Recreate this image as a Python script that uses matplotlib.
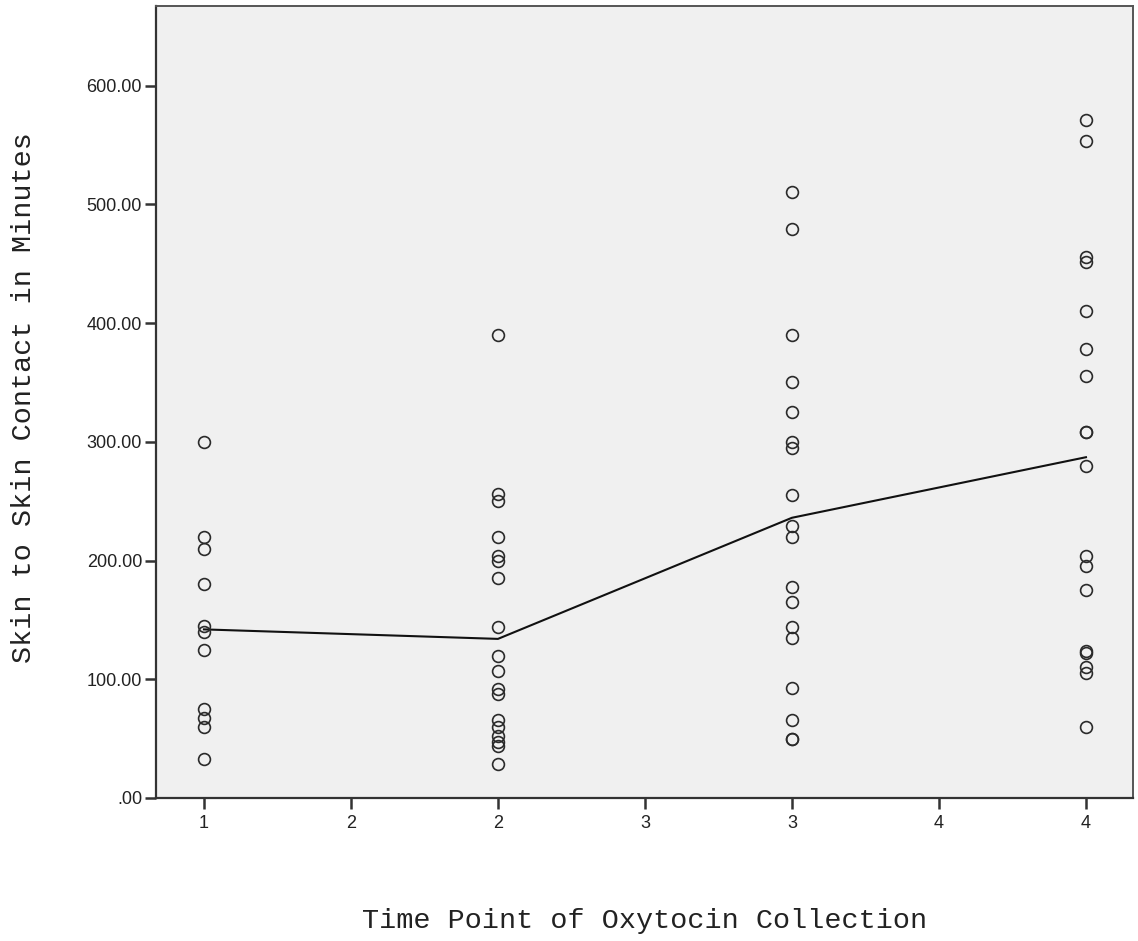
from __future__ import annotations

import matplotlib

matplotlib.use("Agg")
import matplotlib.pyplot as plt


# x positions of the four collection time points
TIME_POINTS = [1, 2, 3, 4]

# skin-to-skin minutes, one list per time point
MINUTES_T1 = [300, 220, 210, 180, 145, 140, 125, 75, 67, 60, 33]
MINUTES_T2 = [390, 256, 250, 220, 204, 200, 185, 144, 120, 107, 92, 88,
              66, 60, 52, 47, 44, 29]
MINUTES_T3 = [510, 479, 390, 350, 325, 300, 295, 255, 229, 220, 178, 165,
              144, 135, 93, 66, 50, 50]
MINUTES_T4 = [571, 553, 456, 451, 410, 378, 355, 308, 308, 280, 204, 195,
              175, 124, 122, 110, 105, 60]

# mean line drawn through the groups
MEAN_LINE = [142, 134, 236, 287]

# SPSS style axis ticks
X_TICKS = [1, 1.5, 2, 2.5, 3, 3.5, 4]
X_TICK_LABELS = ["1", "2", "2", "3", "3", "4", "4"]
Y_TICKS = [0, 100, 200, 300, 400, 500, 600]
Y_TICK_LABELS = [".00", "100.00", "200.00", "300.00", "400.00", "500.00", "600.00"]

X_LABEL = "Time Point of Oxytocin Collection"
Y_LABEL = "Skin to Skin Contact in Minutes"

W, H = 1138, 941


def set_plot_style() -> None:
    plt.rcParams.update(
        {
            "font.family": ["Liberation Sans", "DejaVu Sans"],
            "figure.facecolor": "#FFFFFF",
            "axes.facecolor": "#F0F0F0",
            "xtick.labelsize": 13,
            "ytick.labelsize": 13,
            "xtick.color": "#333333",
            "ytick.color": "#333333",
            "xtick.labelcolor": "#222222",
            "ytick.labelcolor": "#222222",
        }
    )


def main() -> None:
    set_plot_style()
    fig = plt.figure(figsize=(W / 100, H / 100), dpi=100)
    ax = fig.add_axes([156 / W, 1 - 798 / H, (1133 - 156) / W, (798 - 6) / H])

    groups = [MINUTES_T1, MINUTES_T2, MINUTES_T3, MINUTES_T4]
    ax.plot(TIME_POINTS, MEAN_LINE, color="#111111", linewidth=1.5, zorder=2)
    for x, values in zip(TIME_POINTS, groups):
        ax.plot(
            [x] * len(values),
            values,
            linestyle="none",
            marker="o",
            markersize=8.5,
            markerfacecolor="none",
            markeredgecolor="#2a2a2a",
            markeredgewidth=1.2,
            zorder=3,
        )

    ax.set_xlim(0.837, 4.16)
    ax.set_ylim(0, 667)
    ax.set_xticks(X_TICKS)
    ax.set_xticklabels(X_TICK_LABELS)
    ax.set_yticks(Y_TICKS)
    ax.set_yticklabels(Y_TICK_LABELS)
    ax.tick_params(axis="both", length=8, width=1.8, direction="out")
    ax.tick_params(axis="x", pad=4)
    ax.tick_params(axis="y", pad=2)

    for side in ("left", "bottom"):
        ax.spines[side].set_color("#333333")
        ax.spines[side].set_linewidth(1.6)
    for side in ("top", "right"):
        ax.spines[side].set_color("#555555")
        ax.spines[side].set_linewidth(1.4)

    mono = ["Liberation Mono", "DejaVu Sans Mono"]
    fig.text(645 / W, 1 - 921 / H, X_LABEL, family=mono, fontsize=20.5,
             color="#222222", ha="center", va="center")
    fig.text(24 / W, 1 - 398 / H, Y_LABEL, family=mono, fontsize=20.5,
             color="#222222", ha="center", va="center", rotation=90)

    fig.savefig("out.png", dpi=100)
    plt.close(fig)


if __name__ == "__main__":
    main()
